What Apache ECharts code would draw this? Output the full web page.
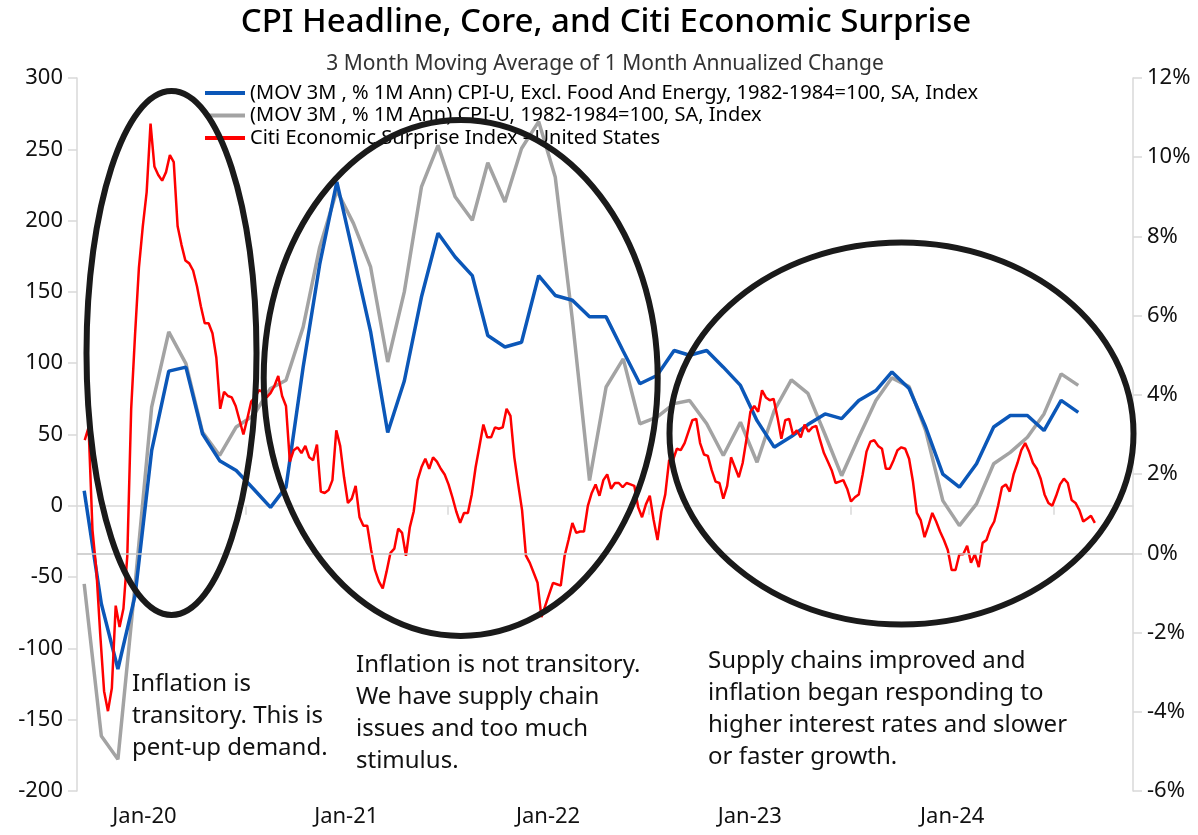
<!DOCTYPE html>
<html>
<head>
<meta charset="utf-8">
<script src="https://cdn.jsdelivr.net/npm/echarts@6/dist/echarts.min.js"></script>
<style>
  html, body { margin: 0; padding: 0; background: #fff; }
  #chart { width: 1198px; height: 835px; }
</style>
</head>
<body>
<div id="chart"></div>
<script>
// monthly CPI points (3M avg of 1M annualized change, %)
const cpiMonths = [
  '2020-03', '2020-04', '2020-05', '2020-06', '2020-07', '2020-08', '2020-09', '2020-10', '2020-11', '2020-12',
  '2021-01', '2021-02', '2021-03', '2021-04', '2021-05', '2021-06', '2021-07', '2021-08', '2021-09', '2021-10', '2021-11', '2021-12',
  '2022-01', '2022-02', '2022-03', '2022-04', '2022-05', '2022-06', '2022-07', '2022-08', '2022-09', '2022-10', '2022-11', '2022-12',
  '2023-01', '2023-02', '2023-03', '2023-04', '2023-05', '2023-06', '2023-07', '2023-08', '2023-09', '2023-10', '2023-11', '2023-12',
  '2024-01', '2024-02', '2024-03', '2024-04', '2024-05', '2024-06', '2024-07', '2024-08', '2024-09', '2024-10', '2024-11', '2024-12',
  '2025-01', '2025-02'
]
const coreCpi = [
  1.58, -1.27, -2.92, -1.07, 2.59, 4.60, 4.70, 3.02, 2.34, 2.09,
  1.63, 1.16, 1.67, 4.70, 7.30, 9.38, 7.53, 5.60, 3.05, 4.35, 6.47, 8.08,
  7.48, 7.01, 5.50, 5.21, 5.33, 7.01, 6.51, 6.39, 5.97, 5.97, 5.10, 4.28,
  4.49, 5.12, 5.00, 5.12, 4.70, 4.24, 3.35, 2.68, 2.95, 3.25, 3.52, 3.40,
  3.86, 4.11, 4.58, 4.16, 3.19, 2.00, 1.67, 2.26, 3.19, 3.48, 3.48, 3.10,
  3.86, 3.56
]
const headlineCpi = [
  -0.77, -4.61, -5.20, -0.80, 3.69, 5.59, 4.79, 3.06, 2.47, 3.19,
  3.48, 4.16, 4.37, 5.71, 7.73, 9.16, 8.33, 7.23, 4.83, 6.60, 9.25, 10.30,
  9.00, 8.41, 9.86, 8.87, 10.22, 10.90, 9.50, 5.90, 1.84, 4.20, 4.91, 3.27,
  3.44, 3.78, 3.86, 3.27, 2.47, 3.31, 2.30, 3.60, 4.38, 4.04, 3.00, 1.96,
  2.93, 3.86, 4.43, 4.21, 3.10, 1.33, 0.70, 1.25, 2.26, 2.55, 2.93, 3.52,
  4.53, 4.24
]

// Citi Economic Surprise Index, weekly readings from 2020-03-16
const citiStart = '2020-03-16'
const citiSurprise = [
  46, 55, -17, -45, -90, -130, -144, -128, -70, -85,
  -72, -35, 68, 120, 167, 196, 220, 268, 238, 232,
  228, 234, 246, 241, 196, 183, 172, 170, 165, 154,
  140, 128, 128, 121, 104, 68, 80, 77, 76, 70,
  60, 50, 61, 73, 76, 81, 80, 76, 79, 84,
  91, 77, 70, 31, 39, 41, 37, 42, 34, 32,
  43, 10, 9, 11, 18, 53, 42, 20, 2, 5,
  14, -8, -14, -14, -31, -45, -53, -58, -46, -33,
  -30, -16, -19, -35, -15, -4, 18, 27, 33, 26,
  34, 31, 26, 22, 15, 6, -4, -12, -5, -5,
  8, 27, 42, 57, 48, 48, 55, 54, 55, 68,
  63, 34, 15, -3, -35, -40, -47, -54, -78, -70,
  -62, -54, -55, -56, -35, -24, -12, -19, -18, -18,
  0, 9, 15, 7, 18, 22, 12, 16, 16, 13,
  16, 15, 14, -1, -8, 1, 7, -10, -24, -4,
  8, 32, 32, 40, 39, 44, 52, 60, 61, 44,
  36, 35, 25, 17, 16, 5, 14, 34, 27, 20,
  30, 47, 66, 70, 66, 81, 76, 74, 75, 62,
  47, 60, 61, 50, 53, 48, 57, 52, 55, 56,
  46, 37, 31, 25, 16, 17, 18, 12, 3, 6,
  8, 22, 38, 45, 46, 42, 40, 26, 26, 32,
  39, 41, 40, 33, 17, -5, -10, -22, -14, -5,
  -11, -18, -24, -31, -45, -45, -34, -34, -28, -40,
  -34, -43, -26, -24, -16, -11, 0, 13, 15, 10,
  22, 30, 39, 44, 38, 30, 26, 19, 8, 2,
  0, 7, 15, 19, 16, 4, 2, -3, -11, -9,
  -7, -12
]

const yearTicks = ['2021-01-01', '2022-01-01', '2023-01-01', '2024-01-01', '2025-01-01']
const yearLabels = ['2020-07-02', '2021-07-02', '2022-07-02', '2023-07-02', '2024-07-02']

const notes = [
  'Inflation is\ntransitory. This is\npent-up demand.',
  'Inflation is not transitory.\nWe have supply chain\nissues and too much\nstimulus.',
  'Supply chains improved and\ninflation began responding to\nhigher interest rates and slower\nor faster growth.'
]

const names = [
  '(MOV 3M , % 1M Ann) CPI-U, Excl. Food And Energy, 1982-1984=100, SA, Index',
  '(MOV 3M , % 1M Ann) CPI-U, 1982-1984=100, SA, Index',
  'Citi Economic Surprise Index - United States'
]

const font = '"Noto Sans", sans-serif'
const day = 86400000
const ts = s => echarts.time.parse(s).getTime()
const t0 = ts(citiStart)
const citiData = citiSurprise.map((v, i) => [t0 + i * 7 * day, v])
const coreData = cpiMonths.map((m, i) => [ts(m + '-15'), coreCpi[i]])
const headData = cpiMonths.map((m, i) => [ts(m + '-15'), headlineCpi[i]])

const axisGray = '#d9d9d9'
const ring = (cx, cy, rx, ry) => ({
  type: 'ellipse', z: 100, silent: true,
  shape: { cx, cy, rx, ry },
  style: { fill: 'none', stroke: '#1a1a1a', lineWidth: 6 }
})
const note = (x, y, text) => ({
  type: 'text', x, y, z: 90,
  style: { text, font: '24px ' + font, fill: '#111', lineHeight: 32 }
})

const option = {
  animation: false,
  textStyle: { fontFamily: font },
  grid: { left: 77, right: 65, top: 78, bottom: 44 },
  legend: {
    left: 200,
    top: 78,
    orient: 'vertical',
    icon: 'rect',
    itemWidth: 40,
    itemHeight: 4,
    itemGap: 2.5,
    textStyle: { fontSize: 20, color: '#000', lineHeight: 20, fontFamily: font },
    data: names
  },
  xAxis: {
    type: 'value',
    min: ts('2020-03-02'),
    max: ts('2025-05-25'),
    axisLine: { lineStyle: { color: axisGray, width: 1.5 } },
    axisTick: {
      show: true, length: 9,
      customValues: yearTicks.map(ts),
      lineStyle: { color: axisGray, width: 1.5 }
    },
    axisLabel: {
      customValues: yearLabels.map(ts),
      formatter: v => 'Jan-' + String(new Date(v).getFullYear()).slice(2),
      fontSize: 22, color: '#111', margin: 15, fontFamily: font
    },
    splitLine: { show: false }
  },
  yAxis: [
    {
      type: 'value', min: -200, max: 300, interval: 50,
      axisLine: { show: true, lineStyle: { color: axisGray, width: 1.5 } },
      axisTick: { show: true, length: 9, lineStyle: { color: axisGray, width: 1.5 } },
      axisLabel: { fontSize: 22, color: '#111', margin: 14, fontFamily: font },
      splitLine: { show: false }
    },
    {
      type: 'value', min: -6, max: 12, interval: 2,
      axisLine: { show: true, lineStyle: { color: axisGray, width: 1.5 } },
      axisTick: { show: true, length: 9, lineStyle: { color: axisGray, width: 1.5 } },
      axisLabel: { fontSize: 22, color: '#111', margin: 14, formatter: '{value}%', fontFamily: font },
      splitLine: { show: false }
    }
  ],
  series: [
    {
      name: names[0], type: 'line', yAxisIndex: 1, data: coreData,
      showSymbol: false, color: '#0b57b8',
      lineStyle: { width: 3.5, color: '#0b57b8' }, z: 3
    },
    {
      name: names[1], type: 'line', yAxisIndex: 1, data: headData,
      showSymbol: false, color: '#a3a3a3',
      lineStyle: { width: 3.5, color: '#a3a3a3' }, z: 2,
      markLine: {
        silent: true, symbol: 'none', label: { show: false },
        lineStyle: { color: '#c4c4c4', width: 1.5, type: 'solid' },
        data: [{ yAxis: 0 }]
      }
    },
    {
      name: names[2], type: 'line', yAxisIndex: 0, data: citiData,
      showSymbol: false, color: '#ff0000',
      lineStyle: { width: 2.5, color: '#ff0000' }, z: 4
    }
  ],
  graphic: [
    {
      type: 'text', x: 606, y: 23, z: 90,
      style: {
        text: 'CPI Headline, Core, and Citi Economic Surprise',
        font: '500 33px ' + font, fill: '#000', align: 'center', verticalAlign: 'middle'
      }
    },
    {
      type: 'text', x: 605, y: 64, z: 90,
      style: {
        text: '3 Month Moving Average of 1 Month Annualized Change',
        font: '21px ' + font, fill: '#333', align: 'center', verticalAlign: 'middle'
      }
    },
    note(132, 668, notes[0]),
    note(356, 649, notes[1]),
    note(708, 645, notes[2]),
    ring(171.5, 353, 85, 262),
    ring(460.7, 378, 197, 258),
    ring(901.5, 433.5, 232, 191)
  ]
}

const myChart = echarts.init(document.getElementById('chart'))
myChart.setOption(option)
</script>
</body>
</html>
